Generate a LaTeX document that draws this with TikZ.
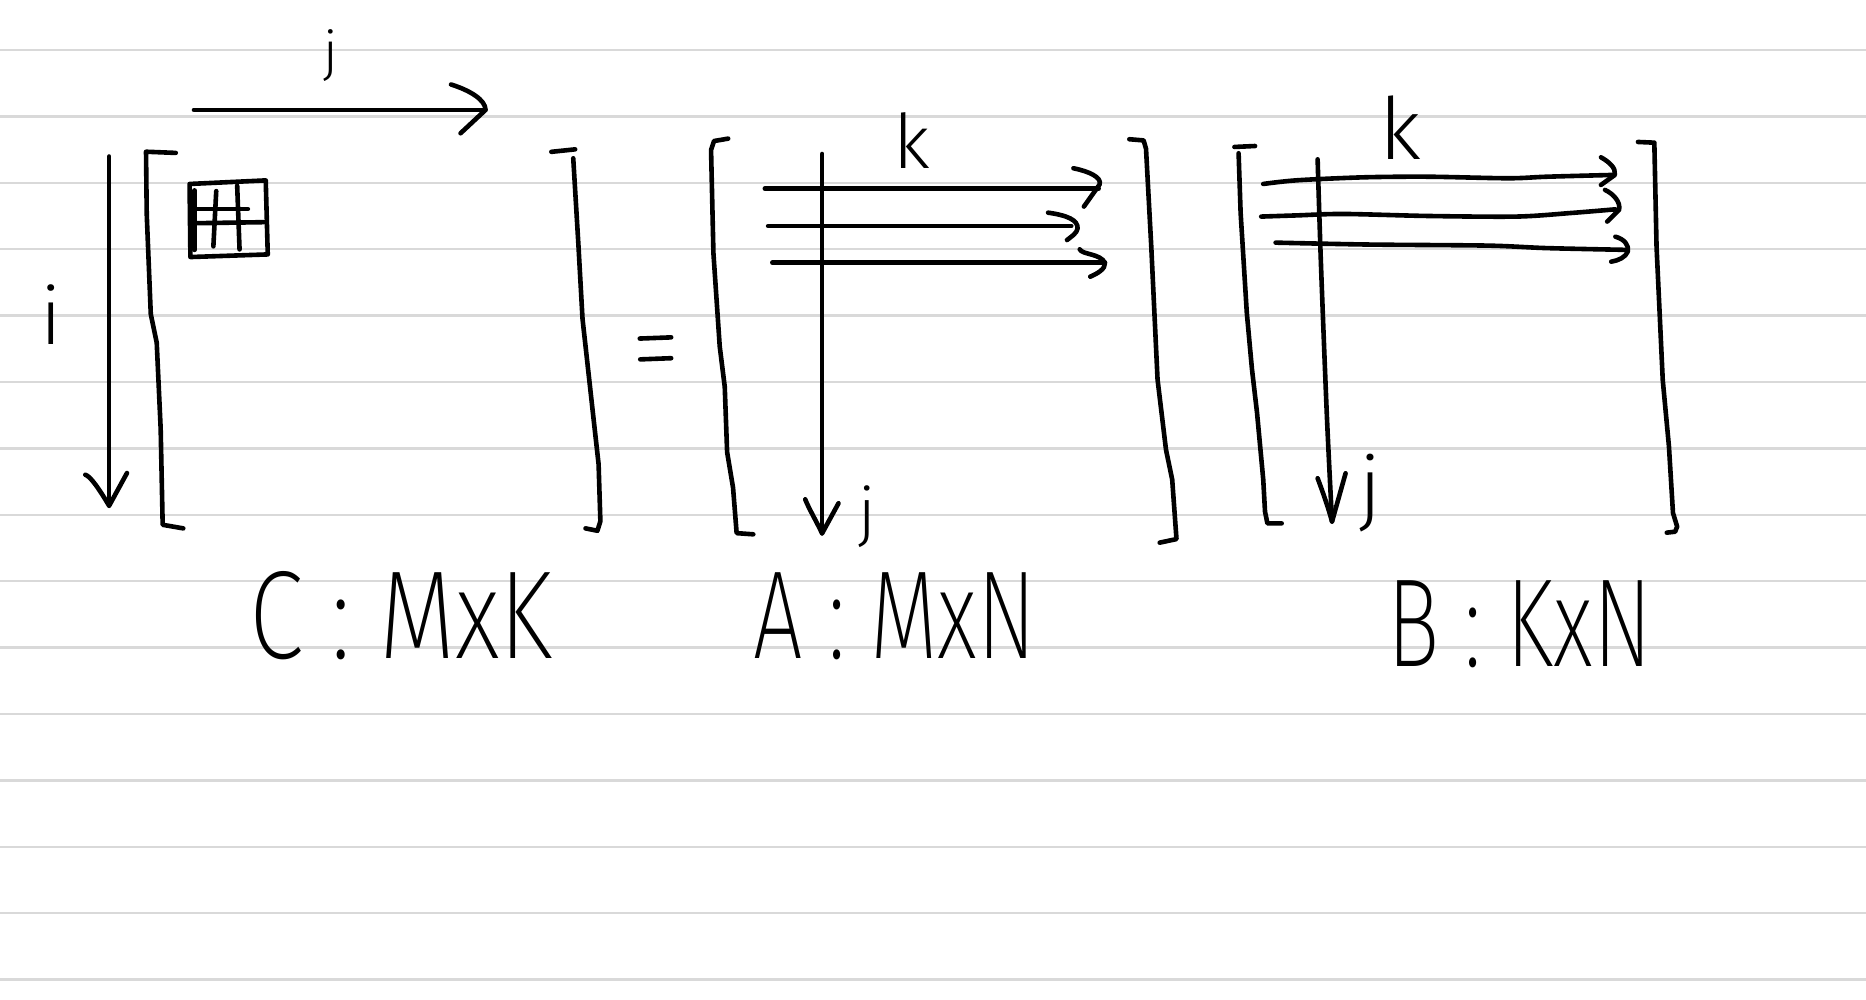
\documentclass[tikz,border=0pt]{standalone}
\usepackage{fontspec}
\setmainfont{Fira Sans}
\newfontfamily\penfont{Fira Sans Light}
\newfontfamily\thinfont{Fira Sans ExtraLight}

\begin{document}
\begin{tikzpicture}[x=0.1mm,y=-0.1mm,
  pen/.style={line width=1.1pt,line cap=round,line join=round},
  rule/.style={draw=black!15,line width=0.6pt},
  hand/.style={inner sep=0pt,font=\penfont\fontsize{#1}{#1}\selectfont},
  shape label/.style={inner sep=0pt,font=\thinfont\fontsize{30}{30}\selectfont}]

\useasboundingbox (0,0) rectangle (1568,840);

% ruled paper
\foreach \n in {0,...,14}
  \draw[rule] (0,{42+55.8*\n}) -- (1568,{42+55.8*\n});

% matrix C
\draw[pen] (147.7,128.5) -- (122.7,127.5) -- (123.3,180) -- (126.7,264) -- (131.7,288)
  -- (135,360) -- (136.7,441) -- (154,444);
\draw[pen] (463.3,127.6) -- (483.3,125.5);
\draw[pen] (481.7,133) -- (486,205) -- (489.5,268) -- (498,345) -- (503,390)
  -- (504.5,438) -- (502,446) -- (492,444);
\coordinate (jC0) at (163,92.4);
\coordinate (jC1) at (408,92.4);
\draw[pen] (jC0) -- (jC1);
\draw[pen] (379,71) .. controls (395,76) and (408,84) .. (jC1) -- (387,112);
\coordinate (iC0) at (91.7,131.5);
\coordinate (iC1) at (91.7,425);
\draw[pen] (iC0) -- (iC1);
\draw[pen] (71.7,399) .. controls (76,400) and (84,412) .. (iC1) -- (106.7,397.5);
\node[hand=13] (jC) at (278,47) {j};
\node[hand=19] (iC) at (43,264) {i};
% one entry of C
\draw[pen] (159.3,154.6) -- (223.3,151.6) -- (225,213.8) -- (160,216) -- cycle;
\draw[pen] (163.3,160) -- (163.3,210);
\draw[pen] (181.7,160.6) -- (179.3,207);
\draw[pen] (199.3,156) -- (201.3,209.6);
\draw[pen] (165,175.6) -- (208.3,175.6);
\draw[pen] (162.7,187.6) -- (221.7,186.7);

% equals
\draw[pen] (537.6,284.5) -- (564,283.5);
\draw[pen] (538,302) -- (564,301);

% matrix A
\draw[pen] (611.9,116.5) -- (600,118.5) -- (597.5,126) -- (599.5,212.9) -- (604.8,291.3)
  -- (609,325) -- (611,380) -- (616,410) -- (619,448) -- (633,449);
\draw[pen] (949,117) -- (961,118) -- (963,125) -- (967.4,207) -- (972.7,319)
  -- (979.8,378) -- (985,403) -- (988.6,453) -- (974.5,456);
\coordinate (jA0) at (690.8,129.4);
\coordinate (jA1) at (690.8,448.2);
\draw[pen] (jA0) -- (jA1);
\draw[pen] (676.6,419.6) .. controls (680,428) and (686,438) .. (jA1) -- (704.6,422.9);
\foreach \xa/\xb/\y in {642.7/923.2/158.5, 645.5/900.2/189.9, 649/928.5/220.7}
  \draw[pen] (\xa,\y) -- (\xb,\y);
\draw[pen] (902,141.4) .. controls (915,144) and (926,149) .. (924,155) -- (910.8,173.6);
\draw[pen] (880.7,178.7) .. controls (897,181) and (906,185) .. (905.5,192)
  .. controls (905,196) and (900,199) .. (896.6,201.7);
\draw[pen] (907.3,209.5) .. controls (909,214) and (925,213) .. (928.5,221)
  .. controls (929,226) and (922,230) .. (916.1,232.5);
\node[hand=18] (kA) at (766,118.5) {k};
\node[hand=15.5] (jA) at (729,434) {j};

% matrix B
\draw[pen] (1054.6,122.7) -- (1037.3,123.5);
\draw[pen] (1040.8,128.8) -- (1042.5,179) -- (1047.7,263) -- (1052,310) -- (1056.3,347)
  -- (1061.5,403) -- (1063,430) -- (1065,439.8) -- (1077,439.8);
\draw[pen] (1376.4,119.3) -- (1390.2,119.9) -- (1390.2,123) -- (1392,207.3) -- (1397.2,319.3)
  -- (1402.4,375) -- (1405.8,431) -- (1409.3,442.5) -- (1407.6,446.8) -- (1400.6,447.6);
\coordinate (jB1) at (1119.3,438.3);
\draw[pen] plot[smooth] coordinates {(1107.2,133.9) (1110,222) (1115,350) (jB1)};
\draw[pen] (1107.2,401.9) .. controls (1111,412) and (1116,426) .. (jB1) -- (1130.7,397.7);
\draw[pen] plot[smooth] coordinates {(1061.5,154.6) (1090,151.5) (1146.3,149) (1200,148.5)
  (1267.4,149.8) (1300,148.5) (1355.6,147)};
\draw[pen] (1345.3,132.2) .. controls (1352,136) and (1358,141) .. (1357,147) -- (1345.3,155.4);
\draw[pen] plot[smooth] coordinates {(1059.8,182) (1090,181) (1129,179.8) (1200,181.5)
  (1274.3,182) (1320,179) (1357.4,175.9)};
\draw[pen] (1348.7,159.6) .. controls (1356,163) and (1362,170) .. (1360.5,176.4) -- (1350.5,186.2);
\draw[pen] plot[smooth] coordinates {(1071.9,203.9) (1150,205.5) (1250.1,206.4) (1300,208.5)
  (1367.8,210)};
\draw[pen] (1357.4,198.9) .. controls (1365,201) and (1369,206) .. (1367.8,211.5)
  .. controls (1366,216) and (1360,219) .. (1353.9,219.9);
\node[hand=20.5] (kB) at (1177,107.5) {k};
\node[hand=19.5] (jB) at (1152,414) {j};

% shapes
\node[shape label,xscale=.79] (labC) at (337,517) {C : MxK};
\node[shape label,xscale=.70] (labA) at (752,518) {A : MxN};
\node[shape label,xscale=.70] (labB) at (1277,525) {B : KxN};
\end{tikzpicture}
\end{document}
